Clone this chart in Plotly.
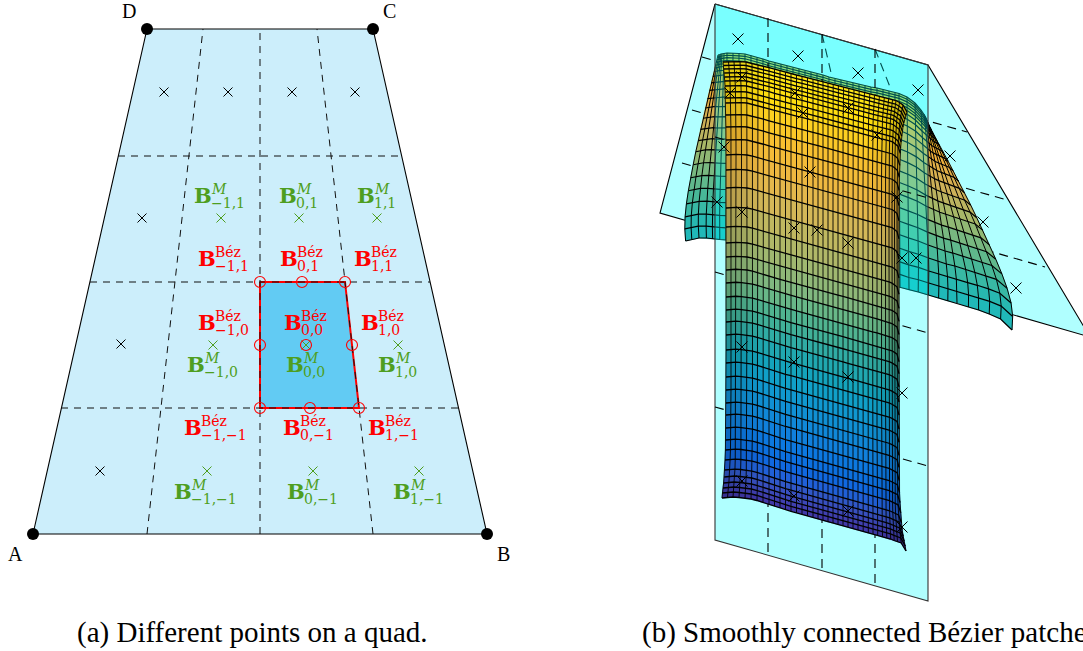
import numpy as np
import plotly.graph_objects as go

# ---------- left panel: quad ----------
quad_x = [33, 487, 373, 147]
quad_y = [534, 534, 29, 29]
corner_names = ["A", "B", "C", "D"]
corner_label_x = [15, 503, 389, 129]
corner_label_y = [554, 554, 11, 11]
grid_v_x0 = [147, 260, 373]
grid_v_x1 = [203, 260, 317]
grid_h_y = [156, 282, 408]
grid_h_xl = [118, 90, 61]
grid_h_xr = [402, 430, 459]
inner_x = [260, 345, 359, 260]
inner_y = [282, 282, 408, 408]
bez_x = [260, 302, 345, 260, 306, 352, 260, 310, 359]
bez_y = [282, 282, 282, 345, 345, 345, 408, 408, 408]
black_x = [164, 228, 292, 355, 142, 121, 100]
black_y = [92, 92, 92, 92, 218, 344, 471]
green_x = [221, 299, 377, 213, 306, 398, 207, 313, 419]
green_y = [218, 218, 218, 345, 345, 345, 471, 471, 471]
sub_names = ["\u22121,1", "0,1", "1,1", "\u22121,0", "0,0", "1,0", "\u22121,\u22121", "0,\u22121", "1,\u22121"]
green_lab_x = [193, 278, 356, 186, 285, 377, 173, 286, 392]
green_lab_y = [195, 195, 195, 364, 364, 364, 491, 491, 491]
red_lab_x = [197, 279, 353, 197, 283, 360, 183, 282, 367]
red_lab_y = [258, 258, 258, 322, 322, 322, 427, 427, 427]

# ---------- right panel: planes ----------
front_plane_x = [715, 928, 928, 715]
front_plane_y = [4, 65, 601, 540]
back_plane_x = [715, 928, 1090, 660]
back_plane_y = [4, 65, 337, 213]
front_dash_x = [768, 822, 875]
front_dash_y0 = [18, 34, 49]
front_dash_y1 = [555, 570, 585]
front_row_dash_y0 = [137, 272, 407]
front_row_dash_y1 = [198, 333, 466]
back_row_dash = [(702, 57, 967, 132), (692, 110, 1007, 200), (682, 163, 1045, 267)]
back_col_dash = [(822, 34, 832, 77), (875, 49, 890, 87)]
cross_x = [738, 798, 858, 918, 950, 983, 1016, 742, 730, 795, 803, 848, 877, 724, 810, 897, 717, 742,
           794, 817, 848, 902, 916, 742, 794, 848, 902, 742, 794, 848, 902]
cross_y = [39, 56, 73, 90, 156, 222, 288, 77, 93, 93, 113, 108, 135, 147, 172, 197, 202, 212,
           228, 230, 243, 258, 258, 347, 362, 377, 393, 481, 496, 511, 527]

# ---------- right panel: front surface ----------
col_x = [726, 731, 736, 741.5, 747, 752.5, 758, 763.5, 769, 774.5, 780, 785.5, 791, 796.5, 802, 807.5, 813, 818, 823,
         828, 833, 838, 843, 848, 853, 858, 863, 868, 872.5, 877, 881.5, 885.5, 889, 892, 894.5, 897, 899]
top_dy = [0, -.3, -.5, -.3, 0, 1.3, 2.8, 4.2, 5.7, 7.2, 8.8, 10.2, 11.5, 13, 14.3, 15.7, 17, 18.3, 19.5,
          21, 22.3, 23.7, 25.2, 26.7, 28, 29.3, 30.5, 32, 33.3, 34.3, 35.5, 36.5, 37.5, 38.5, 40.5, 43, 50]
bot_dy = [0, -.6, -1, -.5, 0, 1, 2.5, 4.5, 6.5, 8.2, 10, 11.8, 13.3, 14.8, 16.3, 18, 20, 21, 22.5,
          24, 25, 26.5, 27.8, 29.2, 30.6, 32, 33.5, 35, 36, 37.2, 38.5, 39.7, 41, 42.5, 43.8, 45, 53]
top_dx = [-3, -2.5, -2, -1.5, -1, -.5, 0, 0, 0, 0, 0, 0, 0, 0, 0, 0, 0, 0, 0, 0,
          .2, .4, .6, .8, 1, 1.2, 1.5, 1.8, 2, 2.4, 2.8, 3.2, 3.6, 4, 5, 6, 8]
bot_dx = [-4, -3.5, -3, -2.5, -2, -1.5, -1, -.5, 0, 0, 0, 0, 0, 0, 0, 0, 0, 0, 0, 0, 0, 0, 0, 0, 0, 0,
          .2, .3, .5, .7, 1, 1.3, 1.7, 2.2, 3, 4.2, 7]
col_shade = [.14, .12, .1, .08, .06, .04, .02, 0, 0, 0, 0, 0, 0, 0, 0, 0, 0, 0, 0, 0, 0, 0, 0, 0, 0, 0, 0,
             .02, .03, .05, .07, .1, .14, .17, .2, .28]
row_y = [62, 65.5, 69, 73, 77, 81, 86, 92, 98, 103, 115, 127, 140, 155, 170, 188, 208, 227, 243, 257, 270, 283,
         297, 310, 322, 335, 350, 363, 377, 390, 403, 415, 428, 440, 450, 460, 470, 477, 483, 488, 493, 498]
pull_top = [1, .85, .72, .6, .5, .42, .34, .27, .2, .16, .1, .05, .02] + [0] * 29
pull_bot = [0] * 32 + [.03, .08, .15, .25, .35, .45, .6, .75, .9, 1]
row_col = ['#FFE81A', '#FFE81A', '#FFE614', '#FFE410', '#FFE210', '#FFE010', '#FFDE10', '#FFDC10', '#FFD818',
           '#FDD020', '#FBC828', '#F8C030', '#F4BC38', '#EEB840', '#E4B84C', '#D4B858', '#C0B860', '#B0B868',
           '#A0B870', '#90B878', '#80B880', '#68B888', '#50B490', '#40B098', '#30ACA4', '#20A8B0', '#14A4BC',
           '#10A0C8', '#1098D0', '#1090D4', '#1088D8', '#1080DC', '#0C78E0', '#0C70E0', '#1068E0', '#2060D8',
           '#3058C8', '#3850C0', '#3C48B8', '#4040B0', '#4038A8']

# ---------- right panel: back surface ----------
back_top_x = [718, 719, 720, 721, 722, 724, 727, 733, 739, 745, 751, 757, 763, 769, 775, 781, 787, 793, 799, 805,
              811, 817, 823, 829, 835, 841, 847, 853, 859, 865, 871, 877, 883, 889, 895, 899, 907, 915, 921, 924,
              925, 926, 926.5, 927, 927, 927, 927]
back_top_y = [55, 55, 54.5, 54, 54, 53.5, 53, 53, 53.5, 54, 55.5, 57.5, 59, 61, 62.5, 64, 66, 67.5, 69, 70.5,
              72, 73.5, 75, 77, 78.5, 80, 81.5, 83, 84, 85.5, 87, 88, 89.5, 91, 92.5, 93.5, 97, 103, 110, 114,
              116, 118, 119, 120, 120.5, 121, 122]
back_bot_x = [687, 693, 700, 707, 713, 720, 726, 732, 738, 744, 750, 756, 762, 768, 774, 780, 786, 792, 798, 804,
              810, 816, 822, 828, 834, 840, 846, 852, 858, 864, 870, 876, 882, 888, 894, 900, 909, 918, 928, 938,
              947, 956, 967, 977, 987, 998, 1009]
back_bot_y = [241, 239.5, 238, 238, 239, 239.5, 240, 242, 243.5, 245, 247, 248.5, 250, 252, 253.5, 255, 257, 258.5,
              260, 262, 263.5, 265, 266.5, 268, 270, 271.5, 273, 275, 276.5, 278, 280, 281.5, 283, 284.5, 286, 287,
              290, 292, 295, 298, 301, 303, 307, 310, 314, 319, 330]
back_bulge = [-7, -6, -5, -3, -2, -1] + [0] * 31 + [1, 2, 3, 4, 5, 7, 8, 11, 13, 15]
back_v = [0, .012, .025, .04, .055, .07, .09, .115, .15, .19, .235, .285, .34, .40, .46, .52, .59, .66, .73, .80, .87, .935, 1]
back_prof = [0, .02, .04, .07, .1, .13, .17, .22, .3, .38, .46, .55, .64, .73, .8, .87, .93, .98, 1, .97, .85, .6, .2]
back_col = ['#C8D848', '#D0D840', '#D8D830', '#E0D828', '#E8D020', '#ECCC20', '#F0C428', '#F4BC30', '#F4B434',
            '#EEB03C', '#E4B048', '#D8B050', '#CCB058', '#BCB460', '#A8B868', '#90B874', '#78B880', '#60B88C',
            '#48B898', '#38B8A4', '#28B8B0', '#20B8B8']

caption_a = "(a) Different points on a quad."
caption_b = "(b) Smoothly connected B\u00e9zier patches."

# ---------- helpers ----------
fig = go.Figure()


def add_poly(xs, ys, fill, line="rgba(0,0,0,0)", width=0, dash=None):
    fig.add_trace(go.Scatter(x=list(xs) + [xs[0]], y=list(ys) + [ys[0]], mode="lines", fill="toself", fillcolor=fill,
                             line=dict(color=line, width=width, dash=dash), hoverinfo="skip"))


def add_line(xs, ys, color="black", width=1.1, dash=None):
    fig.add_trace(go.Scatter(x=xs, y=ys, mode="lines", line=dict(color=color, width=width, dash=dash),
                             hoverinfo="skip"))


def add_marks(xs, ys, symbol, size, color, width=1.0):
    fig.add_trace(go.Scatter(x=xs, y=ys, mode="markers", hoverinfo="skip",
                             marker=dict(symbol=symbol, size=size, color=color, line=dict(color=color, width=width))))


def add_mesh(X, Y, colors, row_w, col_w, shade=None):
    for i, c in enumerate(colors):
        xs = list(X[i]) + list(X[i + 1][::-1])
        ys = list(Y[i]) + list(Y[i + 1][::-1])
        add_poly(xs, ys, c, line=c, width=0.5)
    if shade is not None:
        for j, a in enumerate(shade):
            if a > 0:
                xs = list(X[:, j]) + list(X[:, j + 1][::-1])
                ys = list(Y[:, j]) + list(Y[:, j + 1][::-1])
                add_poly(xs, ys, f"rgba(0,0,0,{a})")
    gx, gy = [], []
    for i in range(X.shape[0]):
        gx += list(X[i]) + [None]
        gy += list(Y[i]) + [None]
    add_line(gx, gy, "#000000", row_w)
    gx, gy = [], []
    for j in range(X.shape[1]):
        gx += list(X[:, j]) + [None]
        gy += list(Y[:, j]) + [None]
    add_line(gx, gy, "#000000", col_w)


GRID_DASH = "7px,6px"
PLANE_DASH = "9px,6px"

# ---------- left panel ----------
add_poly(quad_x, quad_y, "#CCEEFB", "black", 1.1)
add_poly(inner_x, inner_y, "#62CBF3", "#FF0000", 2)
for a, b in zip(grid_v_x0, grid_v_x1):
    add_line([a, b], [534, 29], "#111111", 1, GRID_DASH)
for y, a, b in zip(grid_h_y, grid_h_xl, grid_h_xr):
    add_line([a, b], [y, y], "#111111", 1, GRID_DASH)
add_marks(black_x, black_y, "x-thin", 9, "black", 1)
add_marks(green_x, green_y, "x-thin", 9, "#4E9E20", 1)
add_marks(bez_x, bez_y, "circle-open", 11, "#FF0000", 1.1)
add_marks(quad_x, quad_y, "circle", 12, "black", 0)

# ---------- right panel ----------
CY = "rgba(0,255,255,0.31)"
add_poly(back_plane_x, back_plane_y, CY, "black", 1.1)
for x0, y0, x1, y1 in back_row_dash + back_col_dash:
    add_line([x0, x1], [y0, y1], "black", 1.1, PLANE_DASH)

T = len(back_v)
bX = np.zeros((T, len(back_top_x)))
bY = np.zeros_like(bX)
for i in range(T):
    for j in range(len(back_top_x)):
        bX[i, j] = back_top_x[j] + (back_bot_x[j] - back_top_x[j]) * back_v[i] + back_bulge[j] * back_prof[i]
        bY[i, j] = back_top_y[j] + (back_bot_y[j] - back_top_y[j]) * back_v[i]
add_mesh(bX, bY, back_col, 1.2, 1.0)

add_poly(front_plane_x, front_plane_y, CY, "#333333", 1.1)
for x, a, b in zip(front_dash_x, front_dash_y0, front_dash_y1):
    add_line([x, x], [a, b], "black", 1.1, PLANE_DASH)
for a, b in zip(front_row_dash_y0, front_row_dash_y1):
    add_line([715, 928], [a, b], "black", 1.1, PLANE_DASH)

n = len(row_y)
fX = np.zeros((n, len(col_x)))
fY = np.zeros_like(fX)
for i in range(n):
    t = (row_y[i] - row_y[0]) / (row_y[-1] - row_y[0])
    for j in range(len(col_x)):
        fX[i, j] = col_x[j] + pull_top[i] * top_dx[j] + pull_bot[i] * bot_dx[j]
        fY[i, j] = row_y[i] + (1 - t) * top_dy[j] + t * bot_dy[j]
add_mesh(fX, fY, row_col, 1.3, 0.9, col_shade)

add_marks(cross_x, cross_y, "x-thin", 11, "black", 1)

# ---------- text ----------
SERIF = "Liberation Serif"
LABEL_SERIF = "DejaVu Serif"


def text(x, y, s, size, color="black", anchor="left", bold=False, family=SERIF):
    if bold:
        s = "<b>" + s + "</b>"
    fig.add_annotation(x=x, y=y, text=s, showarrow=False, xanchor=anchor, yanchor="middle",
                       font=dict(family=family, size=size, color=color), xref="x", yref="y")


def label(x, y, sup, sub, color):
    text(x - 1, y, "B", 21, color, bold=True, family=LABEL_SERIF)
    text(x + 16, y - 6, sup, 14, color, family=LABEL_SERIF)
    text(x + 16, y + 8, sub, 14, color, family=LABEL_SERIF)


for x, y, s in zip(green_lab_x, green_lab_y, sub_names):
    label(x, y, "<i>M</i>", s, "#4E9E20")
for x, y, s in zip(red_lab_x, red_lab_y, sub_names):
    label(x, y, "B\u00e9z", s, "#FF0000")
for x, y, s in zip(corner_label_x, corner_label_y, corner_names):
    text(x, y, s, 20, "black", "center")
text(75, 632, caption_a, 29)
text(640, 632, caption_b, 29)

fig.update_layout(
    width=1083, height=651, margin=dict(l=0, r=0, t=0, b=0), showlegend=False,
    paper_bgcolor="white", plot_bgcolor="white",
    xaxis=dict(range=[0, 1083], visible=False, fixedrange=True),
    yaxis=dict(range=[651, 0], visible=False, fixedrange=True),
)
fig.write_html("out.html", post_script="document.body.style.margin='0';", config={"displayModeBar": False})
